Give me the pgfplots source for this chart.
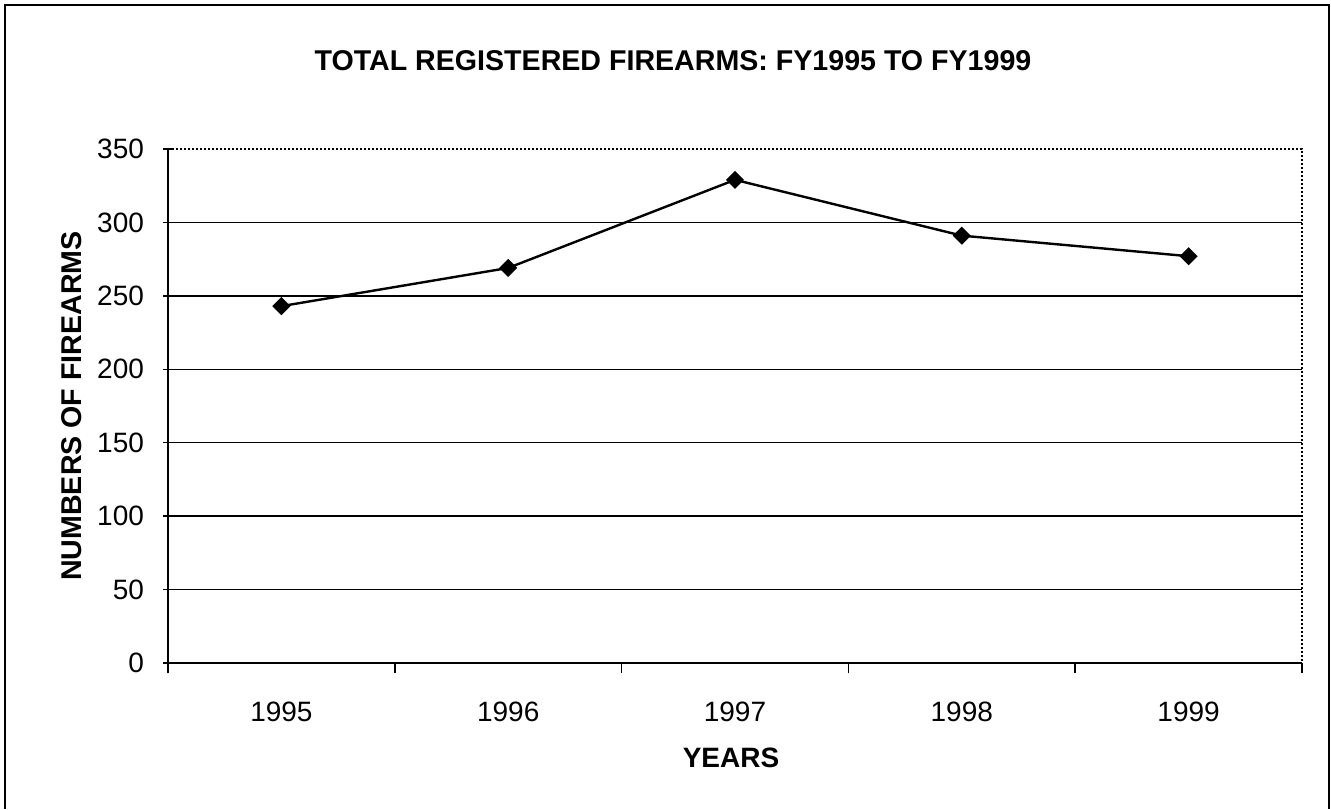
\documentclass[border=0pt]{standalone}
\usepackage{fontspec}
\setmainfont{Liberation Sans}
\usepackage{pgfplots}
\pgfplotsset{compat=1.18}
\begin{document}
\begin{tikzpicture}[x=1pt,y=1pt]
\useasboundingbox (0,0) rectangle (665.5,404.5);
\draw[line width=0.6pt] (2.5,0) -- (2.5,402) -- (664.5,402) -- (664.5,0);
\begin{axis}[
  at={(84pt,73pt)}, anchor=south west,
  scale only axis, width=567pt, height=257pt,
  xmin=-0.5, xmax=4.5, ymin=0, ymax=350,
  clip=false,
  axis x line*=bottom, axis y line*=left,
  axis line style={-, line width=0.75pt, black},
  xtick={-0.5,0.5,1.5,2.5,3.5,4.5},
  x tick label as interval,
  xticklabels={1995,1996,1997,1998,1999},
  ytick={0,50,...,300},
  extra y ticks={350}, extra y tick style={grid=none},
  ymajorgrids, grid style={black, line width=0.65pt},
  tick align=center, major tick length=5pt,
  tick style={black, line width=0.75pt},
  xtick style={yshift=-2.5pt},
  /pgf/number format/assume math mode=true,
  tick label style={font=\fontsize{14}{16}\selectfont},
  xticklabel style={anchor=center, yshift=-22pt},
  yticklabel style={anchor=east, xshift=-6pt},
  title={TOTAL REGISTERED FIREARMS: FY1995 TO FY1999},
  every axis title/.style={at={(axis description cs:0.4453,1.1712)}, anchor=center, font=\fontsize{14.3}{16}\selectfont\bfseries},
  xlabel={YEARS},
  every axis x label/.style={at={(axis description cs:0.4965,-0.1838)}, anchor=center, font=\fontsize{14}{16}\selectfont\bfseries},
  ylabel={NUMBERS OF FIREARMS},
  every axis y label/.style={at={(axis description cs:-0.0847,0.5)}, rotate=90, anchor=center, font=\fontsize{14.3}{16}\selectfont\bfseries},
]
\addplot[black, line width=1.2pt, mark=square*, mark size=2.6pt, mark options={solid, fill=black, rotate=45}]
  coordinates {(0,243) (1,269) (2,329) (3,291) (4,277)};
\draw[black, line width=0.7pt, dash pattern=on 1pt off 1pt] (rel axis cs:0,1) -- (rel axis cs:1,1) -- (rel axis cs:1,0);
\end{axis}
\end{tikzpicture}
\end{document}
